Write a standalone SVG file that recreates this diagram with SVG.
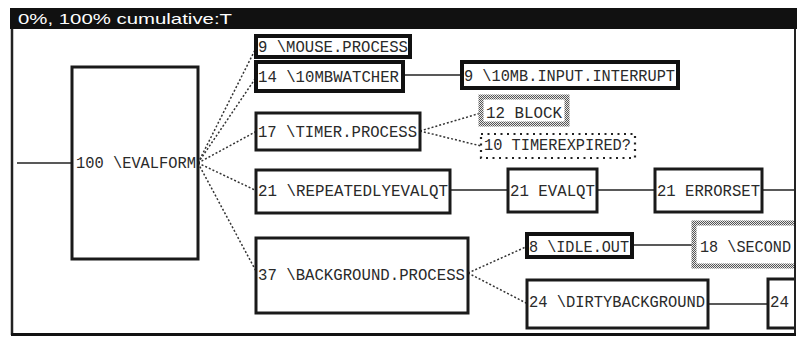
<svg xmlns="http://www.w3.org/2000/svg" width="803" height="337" viewBox="0 0 803 337">
<style>
.bx{fill:#fff;stroke:#1a1a1a;stroke-width:3}
.bk{fill:#fff;stroke:#111;stroke-width:4}
.st{fill:#fff;stroke:url(#chk);stroke-width:5}
.dt{fill:#fff;stroke:#222;stroke-width:2.2;stroke-dasharray:2 4.5}
.t{font-family:"Liberation Mono","DejaVu Sans Mono",monospace;font-size:17px;fill:#2a2a2a}
.ln{stroke:#222;stroke-width:1.5;fill:none}
.dl{stroke:#333;stroke-width:1.5;fill:none;stroke-dasharray:2 2}
</style>
<defs>
<pattern id="chk" width="2" height="2" patternUnits="userSpaceOnUse">
<rect width="2" height="2" fill="#e8e8e8"/>
<rect width="1" height="1" fill="#555"/>
<rect x="1" y="1" width="1" height="1" fill="#555"/>
</pattern>
<clipPath id="win"><rect x="0" y="0" width="794" height="337"/></clipPath>
</defs>
<rect width="803" height="337" fill="#fff"/>
<g id="window">
<rect x="10" y="8" width="787" height="21" fill="#111"/>
<text x="18" y="24" font-family="Liberation Sans,Arial,sans-serif" font-size="15" fill="#fff" textLength="214" lengthAdjust="spacingAndGlyphs">0%, 100% cumulative:T</text>
<line x1="12" y1="29" x2="12" y2="335" stroke="#222" stroke-width="2.5"/>
<line x1="795" y1="29" x2="795" y2="335" stroke="#222" stroke-width="2"/>
<line x1="11" y1="334.5" x2="796" y2="334.5" stroke="#111" stroke-width="3"/>
</g>
<g id="connectors">
<line class="ln" x1="17" y1="163" x2="72" y2="163"/>
<line class="dl" x1="198" y1="163" x2="257" y2="46"/>
<line class="dl" x1="198" y1="163" x2="257" y2="76"/>
<line class="dl" x1="198" y1="163" x2="257" y2="131"/>
<line class="dl" x1="198" y1="163" x2="257" y2="191"/>
<line class="dl" x1="198" y1="163" x2="257" y2="273"/>
<line class="ln" x1="403" y1="75" x2="462" y2="75"/>
<line class="dl" x1="420" y1="131" x2="481" y2="113"/>
<line class="dl" x1="420" y1="131" x2="481" y2="146"/>
<line class="ln" x1="450" y1="190" x2="508" y2="190"/>
<line class="ln" x1="597" y1="190" x2="655" y2="190"/>
<line class="ln" x1="762" y1="190" x2="794" y2="190"/>
<line class="dl" x1="468" y1="273" x2="528" y2="246"/>
<line class="dl" x1="468" y1="273" x2="528" y2="304"/>
<line class="ln" x1="632" y1="245" x2="694" y2="245"/>
<line class="ln" x1="708" y1="304" x2="768" y2="304"/>
</g>
<g id="evalform"><rect class="bx" x="72" y="67" width="126" height="192"/><text class="t" x="76" y="168" textLength="120" lengthAdjust="spacingAndGlyphs">100 \EVALFORM</text></g>
<g id="mouse"><rect class="bk" x="256" y="36" width="154" height="21"/><text class="t" x="258" y="52" textLength="150" lengthAdjust="spacingAndGlyphs">9 \MOUSE.PROCESS</text></g>
<g id="watcher"><rect class="bk" x="256" y="62" width="147" height="29"/><text class="t" x="258" y="82" textLength="141" lengthAdjust="spacingAndGlyphs">14 \10MBWATCHER</text></g>
<g id="interrupt"><rect class="bk" x="462" y="62" width="216" height="26"/><text class="t" x="464" y="81" textLength="211" lengthAdjust="spacingAndGlyphs">9 \10MB.INPUT.INTERRUPT</text></g>
<g id="timer"><rect class="bx" x="256" y="113" width="164" height="37"/><text class="t" x="258" y="137" textLength="159" lengthAdjust="spacingAndGlyphs">17 \TIMER.PROCESS</text></g>
<g id="block"><rect class="st" x="481" y="97" width="86" height="27"/><text class="t" x="486" y="118" textLength="76" lengthAdjust="spacingAndGlyphs">12 BLOCK</text></g>
<g id="expired"><rect class="dt" x="481" y="134" width="154" height="24"/><text class="t" x="484" y="150" textLength="147" lengthAdjust="spacingAndGlyphs">10 TIMEREXPIRED?</text></g>
<g id="repeated"><rect class="bx" x="256" y="170" width="194" height="43"/><text class="t" x="258" y="196" textLength="190" lengthAdjust="spacingAndGlyphs">21 \REPEATEDLYEVALQT</text></g>
<g id="evalqt"><rect class="bx" x="508" y="169" width="89" height="43"/><text class="t" x="510" y="196" textLength="85" lengthAdjust="spacingAndGlyphs">21 EVALQT</text></g>
<g id="errorset"><rect class="bx" x="655" y="169" width="107" height="43"/><text class="t" x="657" y="196" textLength="103" lengthAdjust="spacingAndGlyphs">21 ERRORSET</text></g>
<g id="background"><rect class="bx" x="256" y="238" width="212" height="75"/><text class="t" x="258" y="280" textLength="207" lengthAdjust="spacingAndGlyphs">37 \BACKGROUND.PROCESS</text></g>
<g id="idleout"><rect class="bk" x="527" y="234" width="105" height="23"/><text class="t" x="529" y="252" textLength="100" lengthAdjust="spacingAndGlyphs">8 \IDLE.OUT</text></g>
<g id="dirty"><rect class="bx" x="527" y="280" width="181" height="48"/><text class="t" x="529" y="307" textLength="176" lengthAdjust="spacingAndGlyphs">24 \DIRTYBACKGROUND</text></g>
<g clip-path="url(#win)">
<g id="seconds"><rect class="st" x="694" y="223" width="120" height="43"/><text class="t" x="700" y="252" textLength="91" lengthAdjust="spacingAndGlyphs">18 \SECOND</text></g>
<g id="dirty2"><rect class="bx" x="768" y="279" width="60" height="49"/><text class="t" x="770" y="307" textLength="19" lengthAdjust="spacingAndGlyphs">24</text></g>
</g>
</svg>
